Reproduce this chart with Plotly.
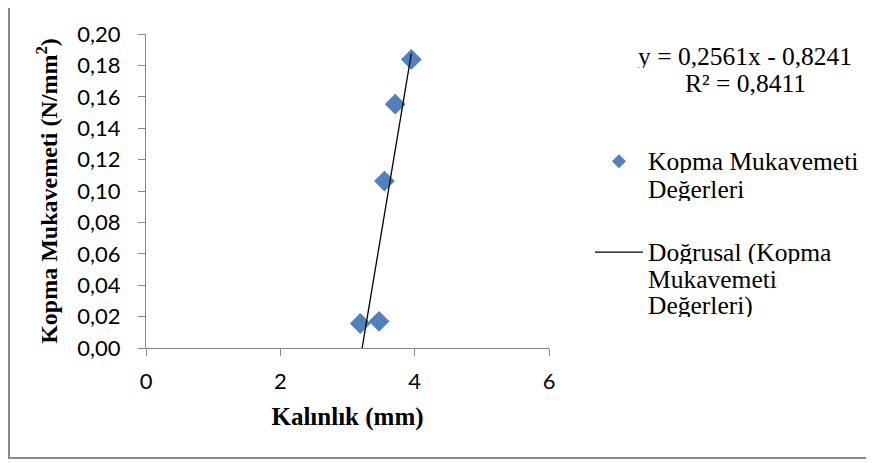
import plotly.graph_objects as go

# ---- data ----
thickness = [3.19, 3.47, 3.55, 3.71, 3.95]          # Kalınlık (mm)
strength = [0.0156, 0.0170, 0.1063, 0.1553, 0.1838]  # Kopma Mukavemeti (N/mm²)
slope = 0.2561
intercept = -0.8241
r2 = 0.8411
x_ticks = [0, 2, 4, 6]
series_name = "Kopma Mukavemeti<br>Değerleri"
trend_name_lines = ["Doğrusal (Kopma", "Mukavemeti", "Değerleri)"]
series_name_lines = ["Kopma Mukavemeti", "Değerleri"]

OFF = 8  # page body margin
W, H = 866, 455
L, R, T, B = 138, 325, 19, 115
PW, PH = W - L - R, H - T - B

def px(xs):
    return (xs - OFF - L) / PW

def py(ys):
    return (H - B - (ys - OFF)) / PH

trend_x = [min(thickness), max(thickness)]
trend_y = [slope * v + intercept for v in trend_x]

BLUE = "#4F81BD"
GRAY = "#878787"
SERIF = "Liberation Serif"
TXT = 25.5

fig = go.Figure()
fig.add_trace(go.Scatter(
    x=thickness, y=strength, mode="markers",
    marker=dict(symbol="diamond", size=16, color=BLUE, line=dict(width=0)),
    name=series_name, showlegend=False, cliponaxis=False,
))
fig.add_trace(go.Scatter(
    x=trend_x, y=trend_y, mode="lines",
    line=dict(color="black", width=1.3),
    showlegend=False,
))

axis_common = dict(
    showgrid=False, zeroline=False, showline=True, linecolor=GRAY, linewidth=1,
    ticks="outside", ticklen=7, tickcolor=GRAY, tickwidth=1,
    tickfont=dict(family="Lato", size=22, color="#000"),
)
fig.update_xaxes(range=[0, 6], tickvals=x_ticks, ticklabelstandoff=7,
                 title=dict(text="<b>Kalınlık (mm)</b>",
                            font=dict(family=SERIF, size=25, color="#000"), standoff=14),
                 **axis_common)
fig.update_yaxes(range=[0, 0.2], dtick=0.02, tickformat=".2f", ticklabelstandoff=13,
                 title=dict(text="<b>Kopma Mukavemeti (N/mm<sup>2</sup>)</b>",
                            font=dict(family=SERIF, size=24, color="#000"), standoff=12),
                 **axis_common)

def label(t, xs, ys, anchor):
    return dict(xref="paper", yref="paper", x=px(xs), y=py(ys), height=24,
                xanchor=anchor, yanchor="middle", showarrow=False, text=t,
                font=dict(family=SERIF, size=TXT, color="#000"))

annotations = []
eq_lines = [f"y = {slope:.4f}x - {abs(intercept):.4f}".replace(".", ","),
            f"R² = {r2:.4f}".replace(".", ",")]
for t, ys in zip(eq_lines, [50, 77]):
    annotations.append(label(t, 745, ys, "center"))
for i, t in enumerate(series_name_lines):
    annotations.append(label(t, 646, 157 + 28 * i, "left"))
for i, t in enumerate(trend_name_lines):
    annotations.append(label(t, 646, 250 + 27 * i, "left"))

shapes = [
    # chart border
    dict(type="rect", xref="paper", yref="paper",
         x0=px(9), x1=px(W + 40), y0=py(460.5), y1=py(-30),
         line=dict(color="#8A8A8A", width=2), fillcolor="rgba(0,0,0,0)", layer="below"),
    # legend diamond
    dict(type="path", xref="paper", yref="paper", xsizemode="pixel", ysizemode="pixel",
         xanchor=px(619), yanchor=py(157),
         path="M 0,7 L 7,0 L 0,-7 L -7,0 Z", fillcolor=BLUE, line=dict(width=0)),
    # legend line
    dict(type="line", xref="paper", yref="paper",
         x0=px(595), x1=px(643), y0=py(250), y1=py(250),
         line=dict(color="black", width=1.3)),
]

fig.update_layout(
    width=W, height=H, margin=dict(l=L, r=R, t=T, b=B, pad=0),
    plot_bgcolor="white", paper_bgcolor="white",
    separators=", ", showlegend=False,
    annotations=annotations, shapes=shapes,
)

fig.write_html("out.html")
